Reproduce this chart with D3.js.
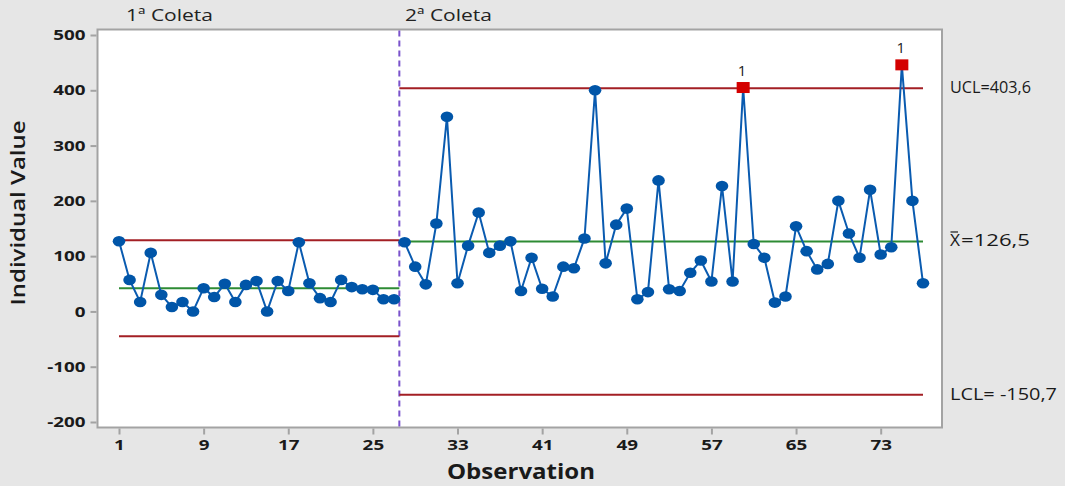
<!DOCTYPE html>
<html>
<head>
<meta charset="utf-8">
<script src="https://cdn.jsdelivr.net/npm/d3@7"></script>
<style>
body { margin: 0; background: #e6e6e6; }
svg { display: block; font-family: "Open Sans", "Noto Sans", sans-serif; }
</style>
</head>
<body>
<svg id="chart"></svg>
<script>
var width = 1065;
var height = 486;

// ================= DATA =================
// stage 1 = observations 1..27, stage 2 = observations 28..77
const stage1Values = [127, 57, 17, 106, 30, 8, 17, 0, 42, 26, 50, 17, 48, 55, 0, 55, 37, 125, 51, 24, 17, 57, 44, 40, 39, 22, 22];
const stage2Values = [125, 81, 49, 159, 352, 51, 119, 179, 106, 119,
                      127, 37, 97, 41, 27, 81, 78, 132, 400, 87,
                      157, 186, 22, 35, 237, 40, 37, 70, 92, 54,
                      227, 54, 405, 122, 97, 16, 27, 154, 109, 76,
                      86, 200, 141, 97, 220, 103, 116, 446, 200, 51];
const stageNames = ["1ª Coleta", "2ª Coleta"];
// [UCL, CL, LCL] per stage
const stageLimits = [[128.8, 42.0, -44.8], [403.6, 126.5, -150.7]];
const xTicks = [1, 9, 17, 25, 33, 41, 49, 57, 65, 73];
const yTicks = [500, 400, 300, 200, 100, 0, -100, -200];
// ========================================

const points = stage1Values.map((v, i) => ({obs: i + 1, value: v, stage: 0}))
  .concat(stage2Values.map((v, i) => ({obs: i + 28, value: v, stage: 1})));
const stageBreak = 27.5;
const stageRange = [[1, stageBreak], [stageBreak, 77]];

const plot = {left: 97.5, right: 942, top: 29.5, bottom: 427.5};
const stretch = 1.3; // the reference text is drawn horizontally wide

const xs = d3.scaleLinear().domain([1, 77]).range([119, 923]);
const ys = d3.scaleLinear().domain([-200, 500]).range([422, 35]);

const svg = d3.select("#chart").attr("width", width).attr("height", height);

svg.append("rect").attr("width", width).attr("height", height).attr("fill", "#e6e6e6");

svg.append("rect")
  .attr("x", plot.left).attr("y", plot.top)
  .attr("width", plot.right - plot.left).attr("height", plot.bottom - plot.top)
  .attr("fill", "#fff").attr("stroke", "#a3a3a3").attr("stroke-width", 2);

// ================== AXES ==================
const yAxis = svg.append("g")
  .attr("transform", "translate(" + (plot.left - 1) + ",0)")
  .call(d3.axisLeft(ys).tickValues(yTicks).tickSize(6).tickFormat(d => String(d)));
const xAxis = svg.append("g")
  .attr("transform", "translate(0," + (plot.bottom + 1) + ")")
  .call(d3.axisBottom(xs).tickValues(xTicks).tickSize(6).tickFormat(d => String(d)));
[yAxis, xAxis].forEach(function(ax) {
  ax.select(".domain").remove();
  ax.selectAll(".tick line").attr("stroke", "#a3a3a3").attr("stroke-width", 2);
  ax.selectAll(".tick text")
    .attr("fill", "#1a1a1a")
    .style("font-size", "14.5px")
    .style("font-weight", "bold")
    .style("font-family", "'Open Sans', sans-serif")
    .attr("transform", "scale(" + stretch + ",1)");
});
yAxis.selectAll(".tick text").attr("x", -11 / stretch);
xAxis.selectAll(".tick text").attr("x", 0).attr("y", 11);

// stage titles
svg.selectAll(".stageName")
  .data(stageNames)
  .enter()
  .append("text")
  .attr("x", (d, i) => i === 0 ? 126 : 405)
  .attr("y", 21)
  .attr("fill", "#222")
  .attr("textLength", 87)
  .attr("lengthAdjust", "spacingAndGlyphs")
  .style("font-size", "17px")
  .text(d => d);

// stage separator
svg.append("line")
  .attr("x1", xs(stageBreak)).attr("x2", xs(stageBreak))
  .attr("y1", plot.top + 1).attr("y2", plot.bottom - 1)
  .attr("stroke", "#7a52cc").attr("stroke-width", 2)
  .attr("stroke-dasharray", "6,4");

// control limits
stageLimits.forEach(function(lims, s) {
  lims.forEach(function(v, k) {
    svg.append("line")
      .attr("x1", xs(stageRange[s][0])).attr("x2", xs(stageRange[s][1]))
      .attr("y1", ys(v)).attr("y2", ys(v))
      .attr("stroke", k === 1 ? "#2e8b34" : "#a31f24")
      .attr("stroke-width", 2);
  });
});

// right labels (values of the last stage)
const fmt = v => String(v).replace(".", ",");
const lims = stageLimits[1];
function sideLabel(x, v, txt, len) {
  svg.append("text")
    .attr("x", x).attr("y", ys(v) + 5)
    .attr("fill", "#1a1a1a")
    .attr("textLength", len)
    .attr("lengthAdjust", "spacingAndGlyphs")
    .style("font-size", "15.5px")
    .text(txt);
}
sideLabel(950, lims[0], "UCL=" + fmt(lims[0]), 81);
sideLabel(950, lims[2], "LCL= " + fmt(lims[2]), 107);
sideLabel(950, lims[1], "X", 10);
sideLabel(961, lims[1], "=" + fmt(lims[1]), 69);
svg.append("line")
  .attr("x1", 950.5).attr("x2", 958)
  .attr("y1", ys(lims[1]) - 9.5).attr("y2", ys(lims[1]) - 9.5)
  .attr("stroke", "#1a1a1a").attr("stroke-width", 1.2);

// data lines, one per stage
[0, 1].forEach(function(s) {
  svg.append("path")
    .datum(points.filter(d => d.stage === s))
    .attr("fill", "none")
    .attr("stroke", "#0a5bb0")
    .attr("stroke-width", 2)
    .attr("d", d3.line().x(d => xs(d.obs)).y(d => ys(d.value)));
});

// markers
const isOut = d => d.value > stageLimits[d.stage][0] || d.value < stageLimits[d.stage][2];

svg.selectAll(".dot")
  .data(points.filter(d => !isOut(d)))
  .enter()
  .append("ellipse")
  .attr("cx", d => xs(d.obs))
  .attr("cy", d => ys(d.value))
  .attr("rx", 6.3).attr("ry", 5.3)
  .attr("fill", "#0055a8");

const outs = points.filter(isOut);
svg.selectAll(".out")
  .data(outs)
  .enter()
  .append("rect")
  .attr("x", d => xs(d.obs) - 6.5)
  .attr("y", d => ys(d.value) - 5.5)
  .attr("width", 13).attr("height", 11)
  .attr("fill", "#d40000");

svg.selectAll(".outLabel")
  .data(outs)
  .enter()
  .append("text")
  .attr("x", d => xs(d.obs) - 1)
  .attr("y", d => ys(d.value) - 12)
  .attr("text-anchor", "middle")
  .attr("fill", "#1a1a1a")
  .style("font-size", "15px")
  .text("1");

// axis titles
svg.append("text")
  .attr("transform", "translate(25,213)rotate(-90)")
  .attr("text-anchor", "middle")
  .attr("fill", "#1a1a1a")
  .attr("textLength", 185)
  .attr("lengthAdjust", "spacingAndGlyphs")
  .style("font-size", "20px")
  .style("font-weight", "600")
  .text("Individual Value");

svg.append("text")
  .attr("x", 521).attr("y", 479)
  .attr("text-anchor", "middle")
  .attr("fill", "#1a1a1a")
  .attr("textLength", 148)
  .attr("lengthAdjust", "spacingAndGlyphs")
  .style("font-size", "21px")
  .style("font-weight", "bold")
  .text("Observation");
</script>
</body>
</html>
